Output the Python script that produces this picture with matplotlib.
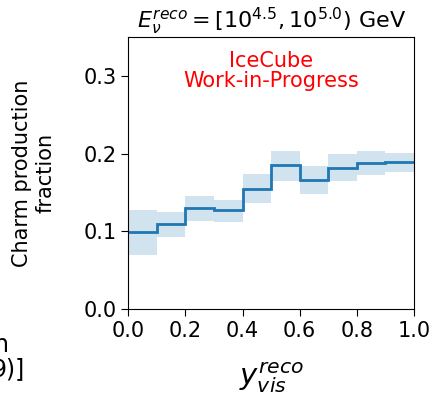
import numpy as np
import matplotlib
matplotlib.use("Agg")
import matplotlib.pyplot as plt

# charm fraction per y_vis bin, with the uncertainty band edges
bin_edges = [0.0, 0.1, 0.2, 0.3, 0.4, 0.5, 0.6, 0.7, 0.8, 0.9, 1.0]
charm_frac = [0.099, 0.109, 0.130, 0.127, 0.154, 0.185, 0.166, 0.182, 0.188, 0.189]
band_hi = [0.128, 0.125, 0.146, 0.140, 0.174, 0.204, 0.184, 0.199, 0.203, 0.201]
band_lo = [0.070, 0.093, 0.114, 0.112, 0.136, 0.165, 0.148, 0.165, 0.173, 0.176]

fig = plt.figure(figsize=(4.30, 3.97), dpi=100)
ax = fig.add_axes([0.298, 0.221, 0.665, 0.686])

edges = np.array(bin_edges)
for i in range(len(charm_frac)):
    ax.fill_between(edges[i:i + 2], band_lo[i], band_hi[i],
                    color="tab:blue", alpha=0.2, linewidth=0)
ax.stairs(charm_frac, edges, baseline=None, color="tab:blue", linewidth=2)

ax.set_xlim(0, 1)
ax.set_ylim(0, 0.35)
ax.set_xticks([0.0, 0.2, 0.4, 0.6, 0.8, 1.0])
ax.set_yticks([0.0, 0.1, 0.2, 0.3])
ax.tick_params(labelsize=15, length=5)

ax.set_title(r"$E_{\nu}^{reco} = [10^{4.5}, 10^{5.0})$ GeV", fontsize=16, pad=6)
ax.set_ylabel("Charm production\nfraction", fontsize=15)
ax.yaxis.set_label_coords(-0.255, 0.5)
ax.set_xlabel(r"$y_{vis}^{reco}$", fontsize=21)
ax.xaxis.set_label_coords(0.5, -0.19)

ax.text(0.5, 0.875, "IceCube\nWork-in-Progress", color="red", fontsize=15,
        ha="center", va="center", transform=ax.transAxes, linespacing=1.0)

# tail of the neighbouring panel's label
fig.text(9 / 430, 1 - 352 / 397, "n", fontsize=17, ha="right", va="baseline")
fig.text(25 / 430, 1 - 376 / 397, "9)]", fontsize=17, ha="right", va="baseline")

fig.savefig("out.png", dpi=100)
